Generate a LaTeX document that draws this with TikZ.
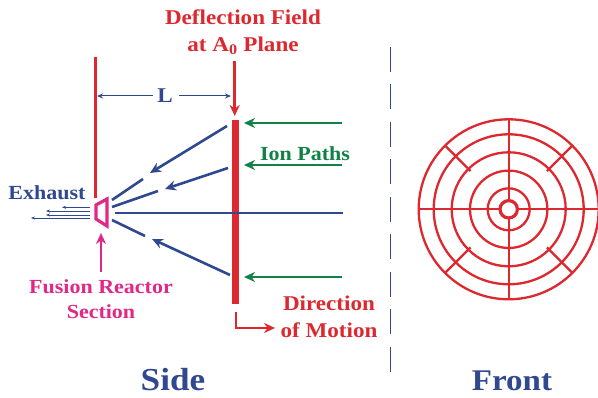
\documentclass[tikz,border=0pt]{standalone}
\usepackage{fontspec}
\setmainfont[FakeStretch=1.1]{Liberation Serif}
\usepackage{xcolor}
\usetikzlibrary{arrows.meta,positioning,calc}
\definecolor{myRed}{RGB}{220, 40, 46}
\definecolor{myBlue}{RGB}{47, 72, 143}
\definecolor{myGreen}{RGB}{16, 130, 70}
\definecolor{myPink}{RGB}{224, 40, 135}

\begin{document}
\begin{tikzpicture}[
    x=1pt,
    y=-1pt,
    >={Stealth[length=11pt,width=10pt]},
    every node/.style={font=\fontsize{21}{26.5}\selectfont\bfseries, align=center, inner sep=0pt},
    small/.style={font=\fontsize{20}{25}\selectfont\bfseries},
    title/.style={text=myBlue, font=\fontsize{#1}{26}\selectfont\bfseries},
    bent/.style={->, draw=myBlue, line width=2.6pt},
    stub/.style={draw=myBlue, line width=2.6pt},
    ion/.style={->, draw=myGreen, line width=2.8pt},
    gauge/.style={->, draw=myBlue, line width=1pt, >={Stealth[length=6pt,width=5pt]}},
    gas/.style={->, draw=myBlue, line width=0.8pt, >={Stealth[length=4pt,width=3pt]}},
    ring/.style={draw=myRed, line width=2.3pt}
]
  \useasboundingbox (0,0) rectangle (598,398);

  % labels
  \node[text=myRed] (F) at (243,32) {Deflection Field\\at A\textsubscript{0} Plane};
  \node[text=myBlue] (L) at (165,96) {L};
  \node[text=myGreen, small] (I) at (305,154) {Ion Paths};
  \node[text=myBlue, small] (X) at (47,193) {Exhaust};
  \node[text=myPink, small] (R) at (101,299) {Fusion Reactor\\Section};
  \node[text=myRed] (D) at (329,317) {Direction\\of Motion};
  \node[title=32] (S) at (173,380) {Side};
  \node[title=30] (T) at (512,381) {Front};

  % plate and wall
  \coordinate (W1) at (95,57);
  \coordinate (W2) at (95,198);
  \coordinate (P1) at (235.5,120);
  \coordinate (P2) at (235.5,304);
  \draw[myRed, line width=3pt] (W1) -- (W2);
  \draw[myRed, line width=7pt] (P1) -- (P2);

  % reactor
  \coordinate (Ra) at (96,205);
  \coordinate (Rb) at (107,199);
  \coordinate (Rc) at (107,226);
  \coordinate (Rd) at (96,219);
  \coordinate (Re) at (101,272);
  \coordinate (Rf) at (101,233);
  \draw[myPink, line width=3.2pt, line join=miter] (Ra) -- (Rb) -- (Rc) -- (Rd) -- cycle;
  \draw[->, myPink, line width=2.5pt] (Re) -- (Rf);

  % deflection and motion
  \coordinate (Fa) at (234.7,61);
  \coordinate (Fb) at (234.7,116);
  \draw[->, myRed, line width=2.5pt] (Fa) -- (Fb);
  \coordinate (Da) at (236,312);
  \coordinate (Db) at (236,328);
  \coordinate (Dc) at (275,328);
  \draw[->, myRed, line width=2.5pt] (Da) -- (Db) -- (Dc);

  % distance L
  \coordinate (La) at (153,96);
  \coordinate (Lb) at (97,96);
  \coordinate (Lc) at (179,96);
  \coordinate (Ld) at (231,96);
  \draw[gauge] (La) -- (Lb);
  \draw[gauge] (Lc) -- (Ld);

  % ion paths
  \foreach \i/\h in {a/123,b/165,c/277} {
    \coordinate (G\i) at (342,\h);
    \coordinate (H\i) at (244,\h);
    \draw[ion] (G\i) -- (H\i);
  }

  % deflected paths
  \coordinate (Ba) at (227,126);
  \coordinate (Bb) at (150,173);
  \coordinate (Bc) at (143,179);
  \coordinate (Bd) at (112,200);
  \coordinate (Be) at (228,168);
  \coordinate (Bf) at (165,189);
  \coordinate (Bg) at (158,191);
  \coordinate (Bh) at (112,207);
  \coordinate (Bi) at (230,275);
  \coordinate (Bj) at (152,239);
  \coordinate (Bk) at (145,236);
  \coordinate (Bl) at (112,220);
  \draw[bent] (Ba) -- (Bb);
  \draw[stub] (Bc) -- (Bd);
  \draw[bent] (Be) -- (Bf);
  \draw[stub] (Bg) -- (Bh);
  \draw[bent] (Bi) -- (Bj);
  \draw[stub] (Bk) -- (Bl);
  \coordinate (Ca) at (115,213);
  \coordinate (Cb) at (343,213);
  \draw[myBlue, line width=1.1pt] (Ca) -- (Cb);

  % exhaust
  \foreach \i/\h/\e in {a/207.3/62,b/211/46,c/215/46,d/218/31} {
    \coordinate (Ea\i) at (90,\h);
    \coordinate (Eb\i) at (\e,\h);
    \draw[gas] (Ea\i) -- (Eb\i);
  }

  % divider
  \coordinate (Va) at (390,47);
  \coordinate (Vb) at (390,372);
  \draw[myBlue, line width=1pt, dash pattern=on 25pt off 12.5pt] (Va) -- (Vb);

  % front view
  \coordinate (O) at (508.7,209.3);
  \foreach \r in {21,38.7,57,75,90} {
    \draw[ring] (O) circle (\r);
  }
  \draw[ring, line width=3.2pt] (O) circle (8.7);
  \foreach \a in {0,90,180,270} {
    \draw[ring] ($(O)+(\a:9)$) -- ($(O)+(\a:90)$);
  }
  \foreach \a in {45,135,225,315} {
    \draw[ring] ($(O)+(\a:54)$) -- ($(O)+(\a:89)$);
  }
\end{tikzpicture}
\end{document}
